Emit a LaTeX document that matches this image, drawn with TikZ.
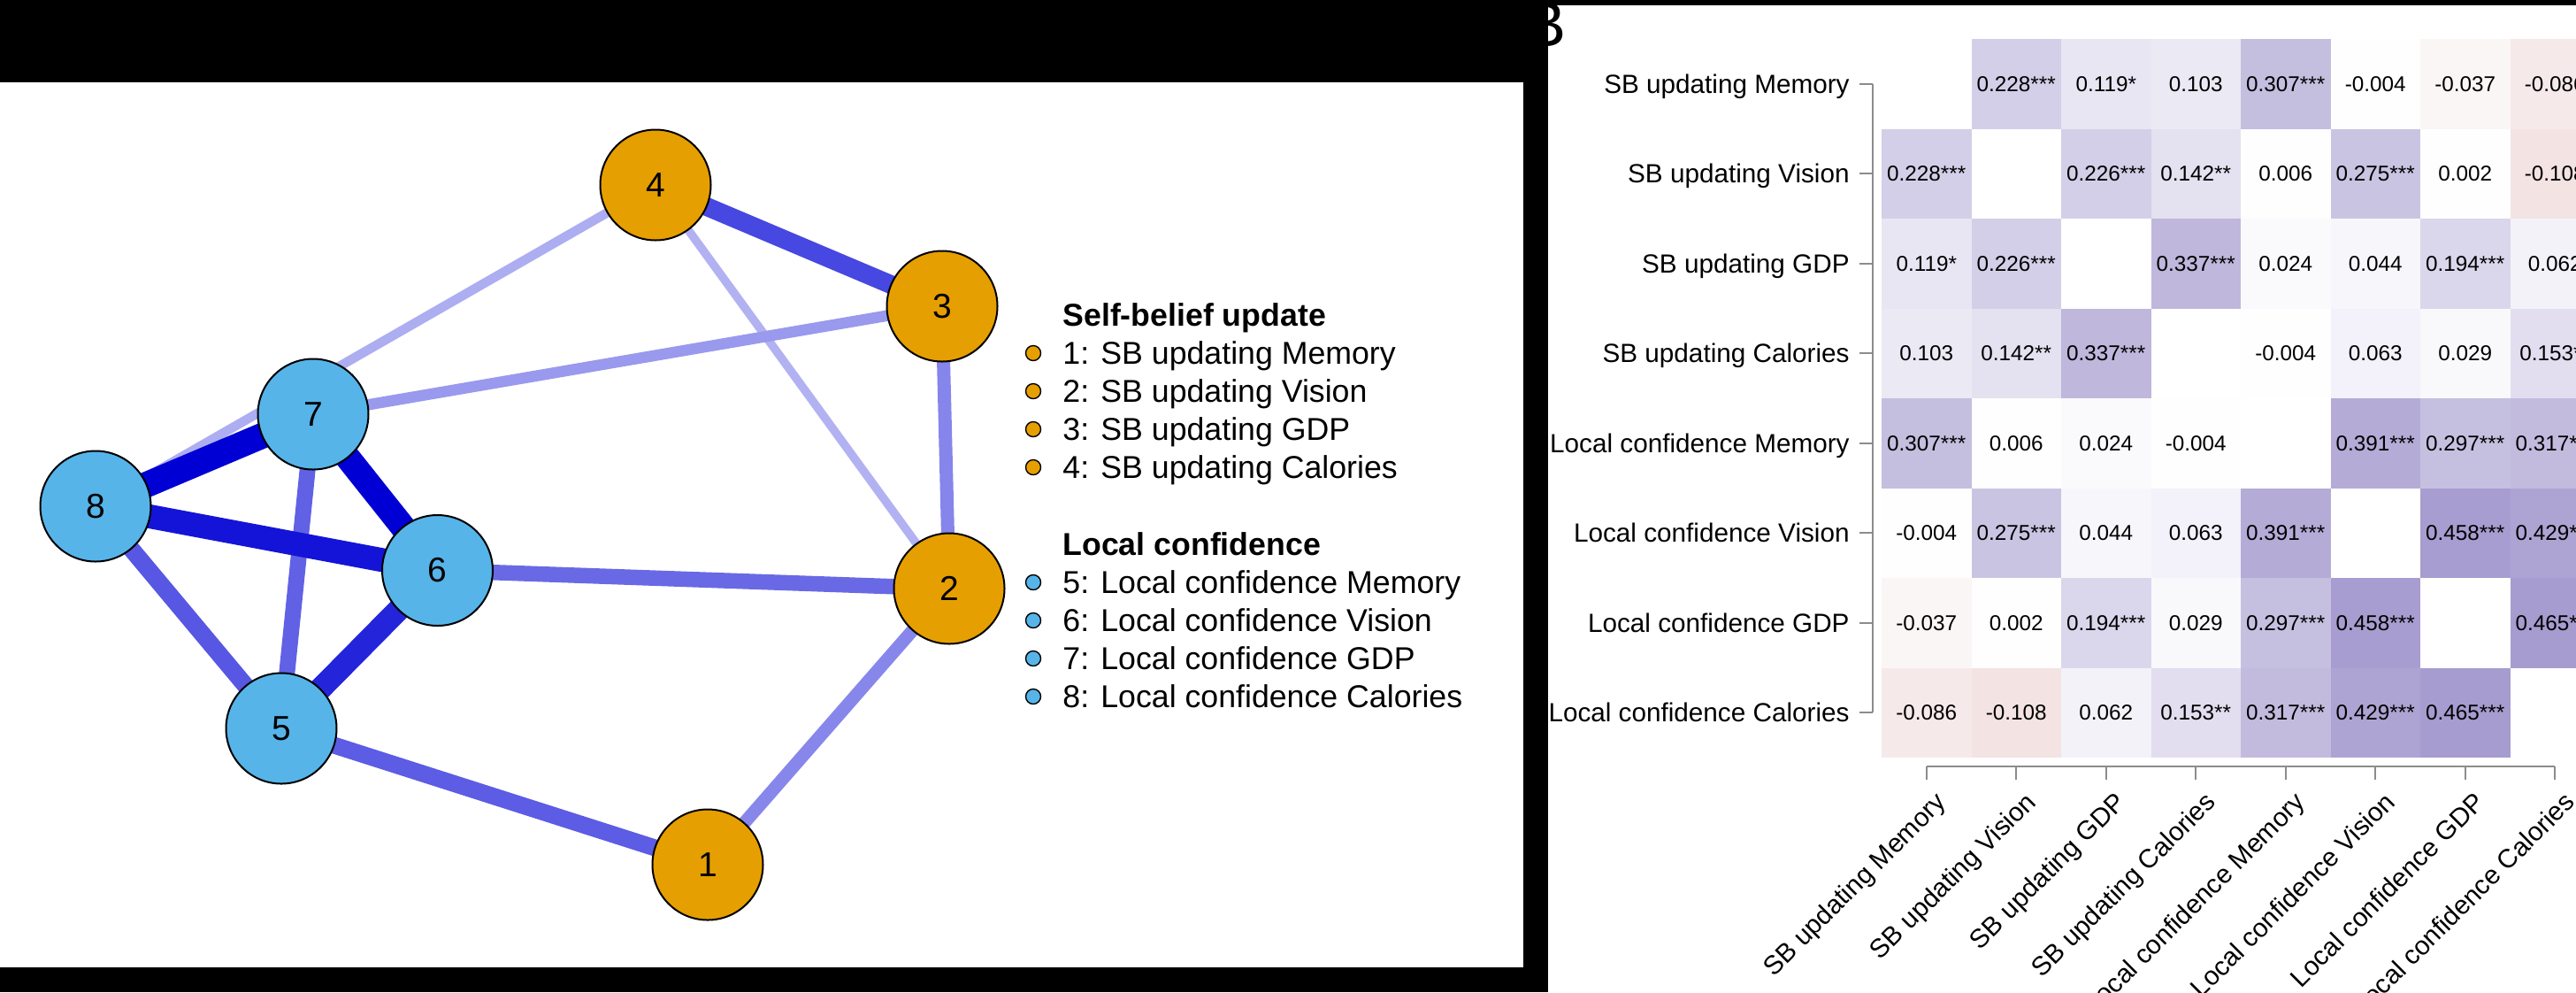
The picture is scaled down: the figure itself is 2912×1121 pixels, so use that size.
\documentclass[tikz,border=0pt]{standalone}
\usepackage{fontspec}
\setmainfont{Liberation Sans}
\pgfdeclarelayer{bglayer}
\pgfdeclarelayer{edgelayer}
\pgfsetlayers{bglayer,edgelayer,main}
\definecolor{nodeor}{HTML}{E69F00}
\definecolor{nodebl}{HTML}{56B4E9}
\definecolor{edgeb}{RGB}{0,0,213}
\definecolor{hpos}{RGB}{64,42,152}
\definecolor{hneg}{RGB}{144,0,0}
\definecolor{axgrey}{HTML}{8C8C8C}
\tikzset{
  netnode/.style={circle, draw=black, line width=1pt, minimum size=62.5pt, inner sep=0pt,
    font=\fontsize{19.5}{20}\selectfont},
  legdot/.style={circle, draw=black, line width=0.7pt, minimum size=8.5pt, inner sep=0pt},
  legtext/.style={anchor=base west, inner sep=0pt, font=\fontsize{17.85}{20}\selectfont},
  legtitle/.style={anchor=base west, inner sep=0pt, font=\fontsize{17.85}{20}\selectfont\bfseries},
  netedge/.style 2 args={line width=#1*0.5pt, draw=edgeb!#2!white},
  valtext/.style={anchor=base, inner sep=0pt, font=\fontsize{12.15}{14}\selectfont},
  rowlab/.style={anchor=base east, inner sep=0pt, font=\fontsize{14.85}{17}\selectfont},
  collab/.style={anchor=base east, inner sep=0pt, rotate=45, font=\fontsize{14.85}{17}\selectfont},
  axline/.style={draw=axgrey, line width=0.8pt},
}
\begin{document}
\begin{tikzpicture}[x=0.5pt,y=-0.5pt]
\useasboundingbox (0,0) rectangle (2912,1121);
\clip (0,0) rectangle (2912,1121);
\begin{pgfonlayer}{bglayer}
\fill[black] (0,0) rectangle (2912,1121);
\fill[white] (0,93) rectangle (1722,1093);
\fill[white] (1750,6) rectangle (2912,1121);
\end{pgfonlayer}

% ---------- Panel A: network ----------
\node[netnode, fill=nodeor] (n1) at (800,977) {1};
\node[netnode, fill=nodeor] (n2) at (1073,665) {2};
\node[netnode, fill=nodeor] (n3) at (1065,346) {3};
\node[netnode, fill=nodeor] (n4) at (741,209) {4};
\node[netnode, fill=nodebl] (n5) at (318,823) {5};
\node[netnode, fill=nodebl] (n6) at (494.5,644.5) {6};
\node[netnode, fill=nodebl] (n7) at (354,468) {7};
\node[netnode, fill=nodebl] (n8) at (108,572) {8};

\begin{pgfonlayer}{edgelayer}
\draw[netedge={9.5}{30}] (n4.center) -- (n2.center);
\draw[netedge={10.5}{32}] (n4.center) -- (n8.center);
\draw[netedge={12.5}{40}] (n3.center) -- (n7.center);
\draw[netedge={14.5}{47}] (n2.center) -- (n1.center);
\draw[netedge={15}{48}] (n3.center) -- (n2.center);
\draw[netedge={17.5}{59}] (n6.center) -- (n2.center);
\draw[netedge={18}{62}] (n7.center) -- (n5.center);
\draw[netedge={19}{64}] (n5.center) -- (n1.center);
\draw[netedge={19.5}{66}] (n8.center) -- (n5.center);
\draw[netedge={21}{72}] (n4.center) -- (n3.center);
\draw[netedge={25.5}{86}] (n6.center) -- (n5.center);
\draw[netedge={27}{92}] (n8.center) -- (n6.center);
\draw[netedge={28.5}{100}] (n7.center) -- (n6.center);
\draw[netedge={29}{100}] (n7.center) -- (n8.center);
\end{pgfonlayer}

% legend
\node[legtitle] (lt1) at (1201,368) {Self-belief update};
\node[legdot, fill=nodeor] (d1) at (1168,399) {};
\node[legtext] (l1) at (1201,411) {1: SB updating Memory};
\node[legdot, fill=nodeor] (d2) at (1168,442) {};
\node[legtext] (l2) at (1201,454) {2: SB updating Vision};
\node[legdot, fill=nodeor] (d3) at (1168,485) {};
\node[legtext] (l3) at (1201,497) {3: SB updating GDP};
\node[legdot, fill=nodeor] (d4) at (1168,528) {};
\node[legtext] (l4) at (1201,540) {4: SB updating Calories};
\node[legtitle] (lt2) at (1201,627) {Local confidence};
\node[legdot, fill=nodebl] (d5) at (1168,658) {};
\node[legtext] (l5) at (1201,670) {5: Local confidence Memory};
\node[legdot, fill=nodebl] (d6) at (1168,701) {};
\node[legtext] (l6) at (1201,713) {6: Local confidence Vision};
\node[legdot, fill=nodebl] (d7) at (1168,744) {};
\node[legtext] (l7) at (1201,756) {7: Local confidence GDP};
\node[legdot, fill=nodebl] (d8) at (1168,787) {};
\node[legtext] (l8) at (1201,799) {8: Local confidence Calories};

% ---------- Panel B: heatmap ----------
\node[anchor=base west, inner sep=0pt, font=\fontsize{36}{40}\selectfont] (blab) at (1722,52) {B};

\foreach \c/\r/\cc/\t in {
 1/0/hpos!22.8/0.228***, 2/0/hpos!11.9/0.119*, 3/0/hpos!10.3/0.103, 4/0/hpos!30.7/0.307***,
 5/0/hneg!0.4/-0.004, 6/0/hneg!3.7/-0.037, 7/0/hneg!8.6/-0.086,
 0/1/hpos!22.8/0.228***, 2/1/hpos!22.6/0.226***, 3/1/hpos!14.2/0.142**, 4/1/hpos!0.6/0.006,
 5/1/hpos!27.5/0.275***, 6/1/hpos!0.2/0.002, 7/1/hneg!10.8/-0.108,
 0/2/hpos!11.9/0.119*, 1/2/hpos!22.6/0.226***, 3/2/hpos!33.7/0.337***, 4/2/hpos!2.4/0.024,
 5/2/hpos!4.4/0.044, 6/2/hpos!19.4/0.194***, 7/2/hpos!6.2/0.062,
 0/3/hpos!10.3/0.103, 1/3/hpos!14.2/0.142**, 2/3/hpos!33.7/0.337***, 4/3/hneg!0.4/-0.004,
 5/3/hpos!6.3/0.063, 6/3/hpos!2.9/0.029, 7/3/hpos!15.3/0.153**,
 0/4/hpos!30.7/0.307***, 1/4/hpos!0.6/0.006, 2/4/hpos!2.4/0.024, 3/4/hneg!0.4/-0.004,
 5/4/hpos!39.1/0.391***, 6/4/hpos!29.7/0.297***, 7/4/hpos!31.7/0.317***,
 0/5/hneg!0.4/-0.004, 1/5/hpos!27.5/0.275***, 2/5/hpos!4.4/0.044, 3/5/hpos!6.3/0.063,
 4/5/hpos!39.1/0.391***, 6/5/hpos!45.8/0.458***, 7/5/hpos!42.9/0.429***,
 0/6/hneg!3.7/-0.037, 1/6/hpos!0.2/0.002, 2/6/hpos!19.4/0.194***, 3/6/hpos!2.9/0.029,
 4/6/hpos!29.7/0.297***, 5/6/hpos!45.8/0.458***, 7/6/hpos!46.5/0.465***,
 0/7/hneg!8.6/-0.086, 1/7/hneg!10.8/-0.108, 2/7/hpos!6.2/0.062, 3/7/hpos!15.3/0.153**,
 4/7/hpos!31.7/0.317***, 5/7/hpos!42.9/0.429***, 6/7/hpos!46.5/0.465***}
{
 \fill[\cc!white] ({2127+101.5*\c},{44+101.5*\r}) rectangle ({2127+101.5*(\c+1)},{44+101.5*(\r+1)});
 \node[valtext] (v-\c-\r) at ({2177.75+101.5*\c},{103.45+101.5*\r}) {\t};
}

% y axis
\draw[axline] (2117,94.75) -- (2117,805.25);
\foreach \r/\lab in {0/SB updating Memory, 1/SB updating Vision, 2/SB updating GDP,
  3/SB updating Calories, 4/Local confidence Memory, 5/Local confidence Vision,
  6/Local confidence GDP, 7/Local confidence Calories}
{
 \draw[axline] (2102,{94.75+101.5*\r}) -- (2117,{94.75+101.5*\r});
 \node[rowlab] (rl\r) at (2091,{105+101.5*\r}) {\lab};
}

% x axis
\draw[axline] (2177.75,866) -- (2888.25,866);
\foreach \c/\lab in {0/SB updating Memory, 1/SB updating Vision, 2/SB updating GDP,
  3/SB updating Calories, 4/Local confidence Memory, 5/Local confidence Vision,
  6/Local confidence GDP, 7/Local confidence Calories}
{
 \draw[axline] ({2177.75+101.5*\c},866) -- ({2177.75+101.5*\c},881);
 \node[collab] (cl\c) at ({2201.75+101.5*\c},908) {\lab};
}
\end{tikzpicture}
\end{document}
